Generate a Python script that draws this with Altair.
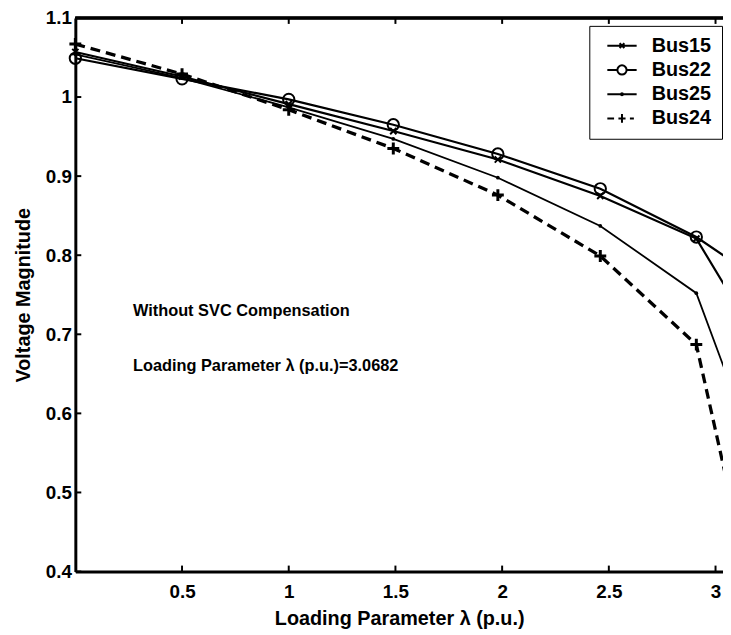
import altair as alt
import pandas as pd

# ---- data ----
names = ["Bus15", "Bus22", "Bus25", "Bus24"]
lam = [0.0, 0.5, 1.0, 1.49, 1.98, 2.46, 2.91, 3.0682]
bus15 = [1.057, 1.026, 0.991, 0.957, 0.921, 0.875, 0.821, 0.750]
bus22 = [1.049, 1.023, 0.997, 0.965, 0.928, 0.884, 0.823, 0.794]
bus25 = [1.054, 1.024, 0.987, 0.947, 0.898, 0.837, 0.752, 0.637]
bus24 = [1.067, 1.029, 0.984, 0.935, 0.876, 0.799, 0.687, 0.496]
x_ticks = [0.5, 1, 1.5, 2, 2.5, 3]
y_ticks = [0.4, 0.5, 0.6, 0.7, 0.8, 0.9, 1.0, 1.1]
notes = ["Without SVC Compensation", "Loading Parameter λ (p.u.)=3.0682"]
note_x = [0.27, 0.27]
note_y = [0.73, 0.66]
x_title = "Loading Parameter λ (p.u.)"
y_title = "Voltage Magnitude"

series_vals = {"Bus15": bus15, "Bus22": bus22, "Bus25": bus25, "Bus24": bus24}
rows = []
for n in names:
    for xv, yv in zip(lam, series_vals[n]):
        rows.append({"series": n, "lam": xv, "v": yv})
df = pd.DataFrame(rows)

W, H = 654, 559
FONT = "Liberation Sans, Arial, Helvetica, sans-serif"

xscale = alt.Scale(domain=[0, 3.035], nice=False, zero=False)
yscale = alt.Scale(domain=[0.4, 1.1], nice=False, zero=False)
xaxis = alt.Axis(values=x_ticks, format=".1~f", ticks=False, grid=False,
                 domainWidth=3, domainColor="black", labelPadding=11,
                 labelFontSize=19, labelFontWeight="bold", labelColor="black",
                 labelFont=FONT, title=x_title, titleFont=FONT, titleFontSize=20,
                 titleFontWeight="bold", titleColor="black", titlePadding=7)
yaxis = alt.Axis(values=y_ticks, format=".1~f", ticks=False, grid=False,
                 domainWidth=3, domainColor="black", labelPadding=4,
                 labelFontSize=19, labelFontWeight="bold", labelColor="black",
                 labelFont=FONT, title=y_title, titleFont=FONT, titleFontSize=20,
                 titleFontWeight="bold", titleColor="black", titlePadding=12)
X = alt.X("lam:Q", scale=xscale, axis=xaxis)
Y = alt.Y("v:Q", scale=yscale, axis=yaxis)

line_style = {
    "Bus15": dict(strokeWidth=2.2),
    "Bus22": dict(strokeWidth=2.2),
    "Bus25": dict(strokeWidth=1.8),
    "Bus24": dict(strokeWidth=3.3, strokeDash=[10, 6]),
}
marker_style = {
    "Bus15": dict(shape="M-1,-1L1,1M-1,1L1,-1", size=40, filled=False, strokeWidth=2),
    "Bus22": dict(shape="circle", size=130, filled=False, strokeWidth=2),
    "Bus25": dict(shape="circle", size=14, filled=True),
    "Bus24": dict(shape="M-1,0H1M0,-1V1", size=144, filled=False, strokeWidth=3),
}

layers = []
for n in names:
    base = alt.Chart(df).transform_filter(alt.datum.series == n)
    layers.append(base.mark_line(color="black", clip=True, **line_style[n]).encode(x=X, y=Y))
for n in names:
    base = alt.Chart(df).transform_filter(alt.datum.series == n)
    layers.append(base.mark_point(color="black", opacity=1, **marker_style[n]).encode(x=X, y=Y))

# inward tick marks and top frame
xt = pd.DataFrame({"lam": x_ticks})
yt = pd.DataFrame({"v": y_ticks})
layers.append(alt.Chart(xt).mark_rule(color="black", strokeWidth=2).encode(
    x=X, y=alt.value(H), y2=alt.value(H - 6)))
layers.append(alt.Chart(xt).mark_rule(color="black", strokeWidth=2).encode(
    x=X, y=alt.value(0), y2=alt.value(6)))
layers.append(alt.Chart(yt).mark_rule(color="black", strokeWidth=2).encode(
    y=Y, x=alt.value(0), x2=alt.value(6)))
layers.append(alt.Chart(xt).mark_rule(color="black", strokeWidth=2.5).encode(
    x=alt.value(0), x2=alt.value(W), y=alt.value(0)))

# annotations
notes_df = pd.DataFrame({"lam": note_x, "v": note_y, "label": notes})
layers.append(alt.Chart(notes_df).mark_text(
    align="left", baseline="middle", font=FONT, fontSize=16.5,
    fontWeight="bold", color="black").encode(x=X, y=Y, text="label:N"))

# legend (symbols are line + marker paths)
legend_paths = [
    "M-1.85,0H1.85M-0.3,-0.3L0.3,0.3M-0.3,0.3L0.3,-0.3",
    "M-1.85,0H-0.58M0.58,0H1.85M0.58,0A0.58,0.58 0 1 1 -0.58,0A0.58,0.58 0 1 1 0.58,0",
    "M-1.85,0H1.85M-0.12,0A0.12,0.12 0 1 1 0.12,0A0.12,0.12 0 1 1 -0.12,0",
    "M-1.85,0H-1.0M-0.45,0H0.45M1.0,0H1.5M0,-0.55V0.55",
]
leg = alt.Legend(title=None, orient="none", legendX=519, legendY=8,
                 strokeColor="black", fillColor="white", padding=10,
                 labelFont=FONT, labelFontSize=20, labelFontWeight="bold",
                 labelColor="black", labelOffset=20, symbolOffset=13,
                 rowPadding=4.5, symbolStrokeColor="black", symbolSize=256)
layers.append(alt.Chart(df).transform_filter("false").mark_point(
    filled=False, color="black", size=256, opacity=1).encode(
    shape=alt.Shape("series:N", scale=alt.Scale(domain=names, range=legend_paths), legend=leg),
    strokeWidth=alt.StrokeWidth("series:N", scale=alt.Scale(domain=names, range=[2, 2, 2, 3]), legend=leg),
))

chart = alt.layer(*layers).properties(
    width=W, height=H,
    autosize=alt.AutoSizeParams(type="none"),
    padding={"left": 68, "top": 7, "right": 0, "bottom": 58},
).configure_view(stroke=None).configure(background="white")

chart.save("out.html", embed_options={"renderer": "svg", "actions": False})
